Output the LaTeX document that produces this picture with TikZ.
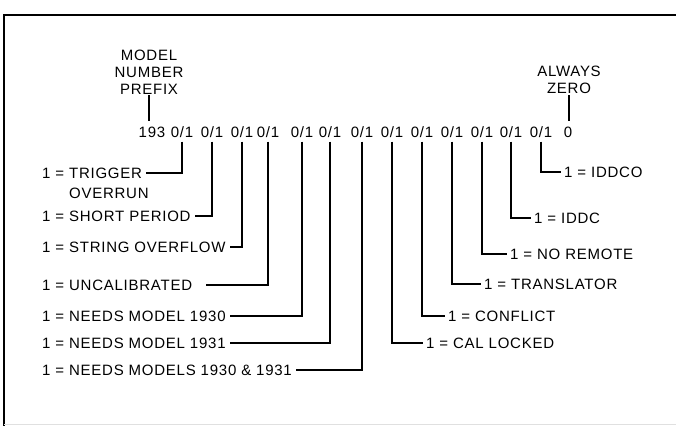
\documentclass[tikz,border=0pt]{standalone}
\usepackage{fontspec}
\setmainfont{Liberation Sans}[LetterSpace=5]
\begin{document}
\begin{tikzpicture}[x=1pt,y=-1pt,
  every node/.style={font=\fontsize{15}{17}\selectfont},
  bit/.style={inner xsep=0pt,inner ysep=4pt},
  head/.style={align=center,inner sep=1pt,font=\fontsize{15}{17}\selectfont},
  llab/.style={anchor=west,inner xsep=4pt,inner ysep=1pt},
  rlab/.style={anchor=west,inner xsep=3pt,inner ysep=1pt},
  conn/.style={line width=1.3pt},
  frame/.style={line width=1.2pt}]
\useasboundingbox (0,0) rectangle (676,426);
% frame
\draw[frame] (676,15) -- (4,15) -- (4,426);
\draw[black!12,line width=1pt] (4,424) -- (676,424);
% bit row
\node[bit] (p) at (152,132) {193};
\foreach \i/\x in {1/182,2/212,3/242,4/268,5/302,6/330,7/362,8/392,9/422,10/452,11/482,12/511,13/541}
  \node[bit] (b\i) at (\x,132) {0/1};
\node[bit] (z) at (568,132) {0};
% headings
\node[head] (mp) at (149,72) {MODEL\\NUMBER\\PREFIX};
\node[head] (az) at (569,80) {ALWAYS\\ZERO};
\draw[conn] (mp.south) -- ([yshift=1pt]p.north -| mp.south);
\draw[conn] (az.south) -- ([yshift=1pt]z.north -| az.south);
% left labels
\node[llab] (l1) at (38,173) {1 = TRIGGER};
\node[llab] (l1b) at (38,193) {\phantom{1 = }OVERRUN};
\node[llab] (l2) at (38,216) {1 = SHORT PERIOD};
\node[llab] (l3) at (38,247) {1 = STRING OVERFLOW};
\node[llab] (l4) at (38,285) {1 = UNCALIBRATED};
\node[llab] (l5) at (38,316) {1 = NEEDS MODEL 1930};
\node[llab] (l6) at (38,343) {1 = NEEDS MODEL 1931};
\node[llab] (l7) at (38,370) {1 = NEEDS MODELS 1930 \& 1931};
% right labels
\node[rlab] (r8) at (423,343) {1 = CAL LOCKED};
\node[rlab] (r9) at (445,316) {1 = CONFLICT};
\node[rlab] (r10) at (481,284) {1 = TRANSLATOR};
\node[rlab] (r11) at (507,254) {1 = NO REMOTE};
\node[rlab] (r12) at (531,218) {1 = IDDC};
\node[rlab] (r13) at (561,172) {1 = IDDCO};
% connectors
\draw[conn] (b1.south) |- (l1.east);
\draw[conn] (b2.south) |- (l2.east);
\draw[conn] (b3.south) |- (l3.east);
\draw[conn] (b4.south) |- ([xshift=10pt]l4.east);
\draw[conn] (b5.south) |- (l5.east);
\draw[conn] (b6.south) |- (l6.east);
\draw[conn] (b7.south) |- (l7.east);
\draw[conn] (b8.south) |- (r8.west);
\draw[conn] (b9.south) |- (r9.west);
\draw[conn] (b10.south) |- (r10.west);
\draw[conn] (b11.south) |- (r11.west);
\draw[conn] (b12.south) |- (r12.west);
\draw[conn] (b13.south) |- (r13.west);
\end{tikzpicture}
\end{document}
